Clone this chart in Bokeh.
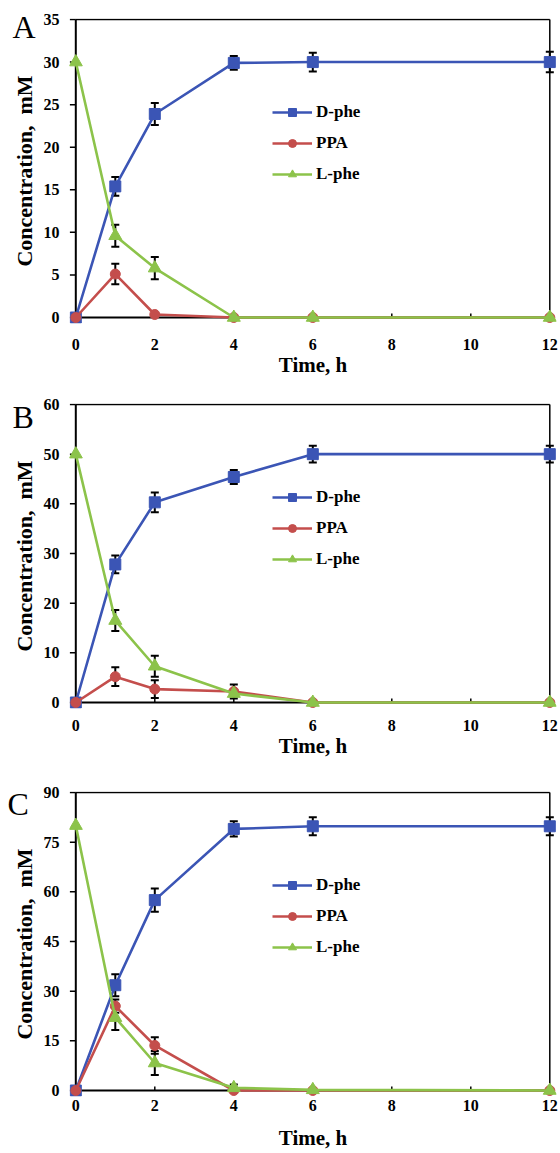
from bokeh.plotting import figure
from bokeh.layouts import column
from bokeh.models import (Range1d, FixedTicker, Legend, LegendItem, Whisker,
                          ColumnDataSource, TeeHead)
from bokeh.embed import file_html
from bokeh.resources import INLINE

# ---------------- data ----------------
time_h = [0, 1, 2, 4, 6, 12]
x_ticks = [0, 2, 4, 6, 8, 10, 12]
series_names = ["D-phe", "PPA", "L-phe"]

# Panel A
a_dphe = [0, 15.4, 23.9, 29.9, 30.0, 30.0]
a_dphe_err = [0, 1.1, 1.3, 0.8, 1.1, 1.2]
a_ppa = [0, 5.1, 0.35, 0, 0, 0]
a_ppa_err = [0, 1.2, 0, 0, 0, 0]
a_lphe = [30, 9.6, 5.8, 0, 0, 0]
a_lphe_err = [0, 1.3, 1.3, 0, 0, 0]
a_yticks = [0, 5, 10, 15, 20, 25, 30, 35]

# Panel B
b_dphe = [0, 27.8, 40.3, 45.4, 50.0, 50.0]
b_dphe_err = [0, 1.8, 2.0, 1.4, 1.7, 1.7]
b_ppa = [0, 5.2, 2.7, 2.2, 0, 0]
b_ppa_err = [0, 1.9, 1.8, 1.4, 0, 0]
b_lphe = [50, 16.5, 7.3, 1.8, 0, 0]
b_lphe_err = [0, 2.1, 2.1, 0.6, 0, 0]
b_yticks = [0, 10, 20, 30, 40, 50, 60]

# Panel C
c_dphe = [0, 31.8, 57.5, 79.0, 79.8, 79.8]
c_dphe_err = [0, 3.3, 3.5, 2.3, 2.7, 2.7]
c_ppa = [0, 25.5, 13.6, 0, 0, 0]
c_ppa_err = [0, 2.0, 2.5, 0, 0, 0]
c_lphe = [80, 22.0, 8.3, 0.8, 0.2, 0]
c_lphe_err = [0, 3.7, 3.6, 1.0, 0, 0]
c_yticks = [0, 15, 30, 45, 60, 75, 90]

colors = ["#3B55B5", "#C44E4C", "#8CC34A"]
markers = ["square", "circle", "triangle"]
msizes = [11, 10, 13]

FONT = "Liberation Serif"


def make_panel(letter, ymax, yticks, values, errors, top_b, bottom_b,
               tick_standoff, label_standoff, letter_dx, letter_dy):
    frame_w = 487
    frame_h = 305
    plot_px_x = 474.0
    plot_px_y = 298.0
    sx = plot_px_x / (time_h[-1] - time_h[0])
    sy = plot_px_y / ymax
    pad_x = 6.3 / sx
    x0 = time_h[0] - pad_x
    x1 = time_h[-1] + (frame_w - plot_px_x) / sx - pad_x
    y0 = -6.0 / sy
    y1 = ymax + 1.0 / sy

    p = figure(frame_width=frame_w, frame_height=frame_h,
               x_range=Range1d(x0, x1), y_range=Range1d(y0, y1),
               output_backend="svg", toolbar_location=None,
               min_border_left=69, min_border_right=4,
               min_border_top=top_b, min_border_bottom=bottom_b)
    p.outline_line_color = None
    p.background_fill_color = "white"
    p.border_fill_color = "white"
    p.xgrid.visible = False
    p.ygrid.visible = False

    # panel letter as the plot title, pulled down beside the y axis
    p.title.text = letter
    p.title.align = "left"
    p.title.offset = letter_dx
    p.title.standoff = letter_dy
    p.title.text_font = FONT
    p.title.text_font_size = "32px"
    p.title.text_font_style = "normal"
    p.title.text_color = "black"

    # axes (labels only; lines/ticks drawn at the data origin below)
    for ax in (p.xaxis[0], p.yaxis[0]):
        ax.axis_line_color = None
        ax.major_tick_line_color = None
        ax.minor_tick_line_color = None
        ax.major_tick_in = 0
        ax.major_tick_out = 0
        ax.major_label_text_font = FONT
        ax.major_label_text_font_style = "bold"
        ax.major_label_text_font_size = "16px"
        ax.major_label_text_color = "black"
        ax.axis_label_text_font = FONT
        ax.axis_label_text_font_style = "bold"
        ax.axis_label_text_color = "black"

    p.xaxis[0].ticker = FixedTicker(ticks=x_ticks)
    p.xaxis[0].major_label_standoff = tick_standoff
    p.xaxis[0].axis_label = "Time, h"
    p.xaxis[0].axis_label_standoff = label_standoff
    p.xaxis[0].axis_label_text_font_size = "21px"

    p.yaxis[0].ticker = FixedTicker(ticks=yticks)
    p.yaxis[0].major_label_standoff = 10
    p.yaxis[0].axis_label = "Concentration,\u00a0 mM"
    p.yaxis[0].axis_label_standoff = 4
    p.yaxis[0].axis_label_text_font_size = "22px"

    xa, xb = time_h[0], time_h[-1]
    # frame lines: top and right
    p.line(x=[xa, xb], y=[ymax, ymax], line_color="black", line_width=1.5)
    p.line(x=[xb, xb], y=[0, ymax], line_color="black", line_width=1.5)
    # axis lines at the origin
    p.line(x=[xa, xa], y=[0, ymax], line_color="black", line_width=2)
    p.line(x=[xa, xb], y=[0, 0], line_color="black", line_width=2)
    # tick marks: y outward (6px), x inward (4px)
    p.segment(x0=[xa] * len(yticks), x1=[xa - 6.0 / sx] * len(yticks),
              y0=yticks, y1=yticks, line_color="black", line_width=1.5)
    p.segment(x0=x_ticks, x1=x_ticks, y0=[0] * len(x_ticks),
              y1=[4.0 / sy] * len(x_ticks), line_color="black", line_width=1.5)

    items = []
    for name, vals, errs in zip(series_names, values, errors):
        ex = [t for t, e in zip(time_h, errs) if e > 0]
        ev = [v for v, e in zip(vals, errs) if e > 0]
        ee = [e for e in errs if e > 0]
        src = ColumnDataSource(dict(x=ex,
                                    upper=[v + e for v, e in zip(ev, ee)],
                                    lower=[v - e for v, e in zip(ev, ee)]))
        w = Whisker(source=src, base="x", upper="upper", lower="lower",
                    line_color="black", line_width=2,
                    upper_head=TeeHead(size=8, line_color="black", line_width=2),
                    lower_head=TeeHead(size=8, line_color="black", line_width=2))
        p.add_layout(w)

    for name, vals, col, mk, ms in zip(series_names, values, colors,
                                       markers, msizes):
        lr = p.line(x=time_h, y=vals, line_color=col, line_width=2.6)
        sr = p.scatter(x=time_h, y=vals, marker=mk, size=ms,
                       fill_color=col, line_color=col, line_width=1)
        items.append(LegendItem(label=name, renderers=[lr, sr]))

    leg = Legend(items=items, location=(203, 139), glyph_width=40,
                 glyph_height=20, label_height=20, spacing=11, padding=0,
                 margin=0, label_standoff=4,
                 label_text_font=FONT, label_text_font_style="bold",
                 label_text_font_size="17px", label_text_color="black",
                 border_line_color=None, background_fill_alpha=0)
    p.add_layout(leg)
    return p


pa = make_panel("A", 35, a_yticks, [a_dphe, a_ppa, a_lphe],
                [a_dphe_err, a_ppa_err, a_lphe_err], 18, 70,
                tick_standoff=15, label_standoff=0, letter_dx=-57, letter_dy=-53)
pb = make_panel("B", 60, b_yticks, [b_dphe, b_ppa, b_lphe],
                [b_dphe_err, b_ppa_err, b_lphe_err], 10, 73,
                tick_standoff=11, label_standoff=0, letter_dx=-57, letter_dy=-62)
pc = make_panel("C", 90, c_yticks, [c_dphe, c_ppa, c_lphe],
                [c_dphe_err, c_ppa_err, c_lphe_err], 10, 56,
                tick_standoff=3, label_standoff=12, letter_dx=-62, letter_dy=-61)

layout = column(pa, pb, pc, spacing=0)
open("out.html", "w").write(file_html(layout, INLINE))
